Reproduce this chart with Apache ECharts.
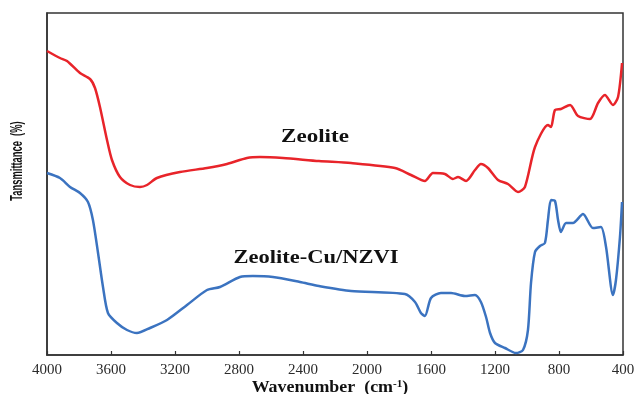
<!DOCTYPE html>
<html>
<head>
<meta charset="utf-8">
<script src="https://cdn.jsdelivr.net/npm/echarts@6/dist/echarts.min.js"></script>
<style>html,body{margin:0;padding:0;background:#fff}#c{width:638px;height:394px}</style>
</head>
<body>
<div id="c"></div>
<script>
// Wavenumber (cm-1) and relative transmittance (arbitrary units)
const zeoliteWn = [4000,3919,3875,3794,3731,3700,3669,3625,3594,3544,3481,3419,3375,3313,3169,3000,2875,2750,2669,2525,2300,2100,1825,1725,1638,1588,1513,1463,1431,1381,1325,1288,1244,1181,1119,1056,1013,950,869,850,825,788,731,681,606,556,513,463,431,406];
const zeoliteT  = [304,297,294,282,276,267,248,215,195,178,170,168,170,177,183,187,191,197,198,197,194,192,187,180,174,182,181,176,178,174,185,191,187,175,171,163,168,208,230,228,245,246,250,239,236,252,260,250,258,292];

const compositeWn = [4000,3919,3856,3794,3744,3713,3681,3650,3619,3563,3500,3438,3356,3250,3125,3000,2919,2794,2713,2588,2419,2300,2100,1763,1700,1663,1638,1600,1538,1475,1388,1325,1288,1256,1231,1200,1138,1069,1025,994,975,950,919,888,869,850,825,806,788,756,713,650,588,538,506,463,444,419,406];
const compositeT  = [182,177,168,162,153,135,102,68,42,32,25,22,27,35,50,65,68,78,79,78,73,69,64,61,53,42,39,57,62,62,59,60,53,38,22,12,7,2,5,25,72,103,109,112,135,155,154,135,123,132,132,141,127,128,108,60,75,118,153];

const xTicks = [4000,3600,3200,2800,2400,2000,1600,1200,800,400];
const seriesNames = ['Zeolite', 'Zeolite-Cu/NZVI'];

const pair = (xs, ys) => xs.map((x, i) => [x, ys[i]]);

const chart = echarts.init(document.getElementById('c'), null, {renderer: 'canvas'});
chart.setOption({
  animation: false,
  backgroundColor: '#fff',
  grid: {left: 47, right: 15, top: 13, bottom: 39, show: true, borderColor: '#333', borderWidth: 1.5},
  xAxis: {
    type: 'value', inverse: true, min: 400, max: 4000, interval: 400,
    axisLine: {show: true, lineStyle: {color: '#333', width: 1.5}},
    axisTick: {show: true, inside: true, length: 4, lineStyle: {color: '#333', width: 1.2}},
    axisLabel: {margin: 8, fontFamily: 'Liberation Serif', fontSize: 15, color: '#2b2b2b',
      formatter: v => xTicks.includes(v) ? String(v) : ''},
    splitLine: {show: false}
  },
  yAxis: {
    type: 'value', min: 0, max: 342,
    axisLine: {show: true, lineStyle: {color: '#333', width: 1.5}},
    axisTick: {show: false}, axisLabel: {show: false}, splitLine: {show: false}
  },
  series: [
    {name: seriesNames[0], type: 'line', data: pair(zeoliteWn, zeoliteT), showSymbol: false, smooth: 0.25,
      lineStyle: {color: '#e8242a', width: 2.5}},
    {name: seriesNames[1], type: 'line', data: pair(compositeWn, compositeT), showSymbol: false, smooth: 0.25,
      lineStyle: {color: '#3b73c0', width: 2.5}}
  ],
  graphic: [
    {type: 'text', x: 315, y: 137, scaleX: 1.28,
      style: {text: seriesNames[0], font: 'bold 18px "Liberation Serif"', fill: '#111', align: 'center', verticalAlign: 'middle'}},
    {type: 'text', x: 316, y: 258, scaleX: 1.25,
      style: {text: seriesNames[1], font: 'bold 18px "Liberation Serif"', fill: '#111', align: 'center', verticalAlign: 'middle'}},
    {type: 'text', x: 330, y: 388, scaleX: 1.12,
      style: {text: '{a|Wavenumber  (cm}{s|-1}{a|)}', align: 'center', verticalAlign: 'middle', fill: '#111',
        rich: {
          a: {font: 'bold 16px "Liberation Serif"', fill: '#111', lineHeight: 18},
          s: {font: 'bold 10px "Liberation Serif"', fill: '#111', verticalAlign: 'top', lineHeight: 18, padding: [0,0,8,0]}
        }}},
    {type: 'text', x: 17, y: 161, rotation: Math.PI / 2, scaleX: 0.55,
      style: {text: 'Tansmittance  (%)', font: 'bold 17px "Liberation Sans"', fill: '#111', align: 'center', verticalAlign: 'middle'}}
  ]
});
</script>
</body>
</html>
